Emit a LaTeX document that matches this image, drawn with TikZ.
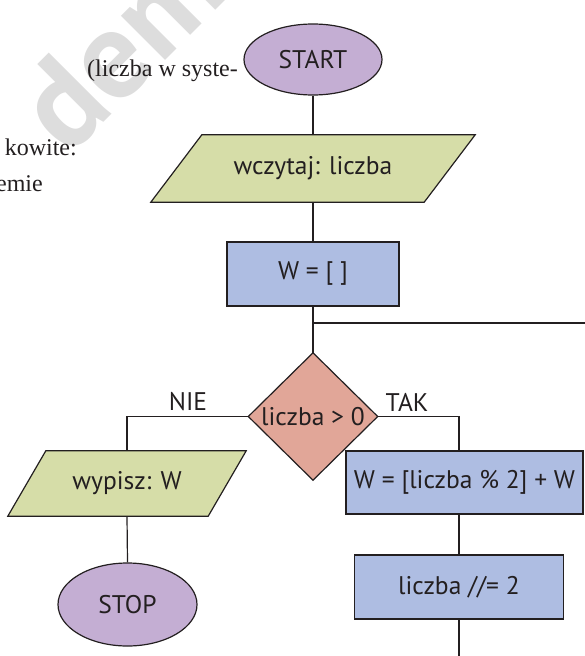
\documentclass[tikz,border=0pt]{standalone}
\usepackage{fontspec}
\setmainfont{Liberation Serif}
\newfontfamily\flowfont{PT Sans}
\usetikzlibrary{shapes.geometric,backgrounds}
\definecolor{linec}{HTML}{231F20}
\definecolor{termc}{HTML}{C4AED3}
\definecolor{ioc}{HTML}{D6DDA8}
\definecolor{procc}{HTML}{AEBDE2}
\definecolor{decc}{HTML}{E1A698}
\definecolor{wmc}{HTML}{DDDDDD}
\tikzset{
 conn/.style={draw=linec, line width=1.2pt},
 shapeline/.style={draw=linec, line width=1.2pt},
 ftext/.style={font=\flowfont\fontsize{25.5}{30}\selectfont, text=linec},
 term/.style={ellipse, shapeline, fill=termc, ftext, inner sep=0pt},
 proc/.style={rectangle, shapeline, fill=procc, ftext, inner sep=0pt},
 iobox/.style={rectangle, ftext, inner sep=0pt},
 decbox/.style={rectangle, ftext, inner sep=0pt},
 lbl/.style={ftext, inner sep=0pt},
 bodytext/.style={font=\fontsize{24}{29}\selectfont, text=linec, inner sep=0pt},
 wm/.style={font=\flowfont\bfseries\fontsize{125}{125}\selectfont, text=wmc, rotate=45, inner sep=0pt}
}
\begin{document}
\begin{tikzpicture}[x=1pt,y=-1pt]
\useasboundingbox (0,0) rectangle (585,656);
\clip (0,0) rectangle (585,656);
% watermark
\node[wm, anchor=base] (wmark) at (150,76) {dem};
% left text
\node[bodytext, anchor=base west] (t1) at (87,76) {(liczba w syste-};
\node[bodytext, anchor=base east] (t2) at (77,155) {kowite:};
\node[bodytext, anchor=base east] (t3) at (43,191) {emie};
% flowchart nodes
\node[term, minimum width=138, minimum height=71] (start) at (313,59.5) {START};
\node[iobox, minimum width=273, minimum height=67] (read) at (313,168.5) {wczytaj: liczba};
\node[proc, minimum width=172, minimum height=64] (init) at (313,274) {W = [ ]};
\coordinate (join) at (313,323);
\coordinate (loopin) at (590,323);
\node[decbox, minimum width=129, minimum height=127] (cond) at (313,416.5) {liczba > 0};
\node[iobox, minimum width=200, minimum height=65] (out) at (127,483.5) {wypisz: W};
\node[term, minimum width=139, minimum height=83] (stop) at (127.5,604.5) {STOP};
\node[proc, minimum width=237, minimum height=63] (upd) at (464.5,482.5) {W = [liczba \% 2] + W};
\node[proc, minimum width=209, minimum height=64] (div) at (459,587) {liczba //= 2};
\coordinate (exit) at (459,662);
\node[lbl] (nie) at (188,402) {NIE};
\node[lbl] (tak) at (407,402) {TAK};
% shapes behind text
\begin{scope}[on background layer]
 \filldraw[shapeline, fill=ioc] ([xshift=25.5pt]read.north west) -- ([xshift=25.5pt]read.north east) -- ([xshift=-25.5pt]read.south east) -- ([xshift=-25.5pt]read.south west) -- cycle;
 \filldraw[shapeline, fill=ioc] ([xshift=19pt]out.north west) -- ([xshift=19pt]out.north east) -- ([xshift=-19pt]out.south east) -- ([xshift=-19pt]out.south west) -- cycle;
 \filldraw[shapeline, fill=decc] (cond.north) -- (cond.east) -- (cond.south) -- (cond.west) -- cycle;
\end{scope}
% connectors
\draw[conn] (start.south) -- (read.north);
\draw[conn] (read.south) -- (init.north);
\draw[conn] (init.south) -- (cond.north);
\draw[conn] (join) -- (loopin);
\draw[conn] (cond.west) -| (out.north);
\draw[conn] (cond.east) -| (upd.north -| div.north);
\draw[conn] (upd.south -| div.north) -- (div.north);
\draw[conn] (div.south) -- (exit);
\draw[conn] (out.south) -- (stop.north);
\end{tikzpicture}
\end{document}
